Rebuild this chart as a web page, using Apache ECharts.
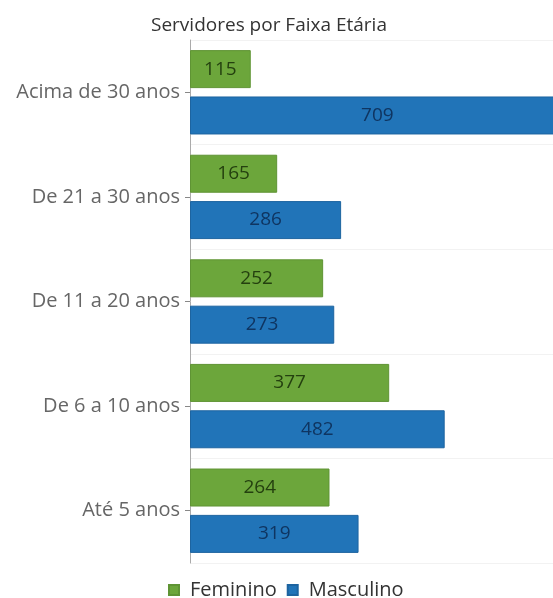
<!DOCTYPE html>
<html>
<head>
<meta charset="utf-8">
<script src="https://cdn.jsdelivr.net/npm/echarts@6/dist/echarts.min.js"></script>
<style>
html,body{margin:0;padding:0;background:#fff;overflow:hidden;}
#chart{width:553px;height:598px;}
</style>
</head>
<body>
<div id="chart"></div>
<script>
var categories = ['Acima de 30 anos', 'De 21 a 30 anos', 'De 11 a 20 anos', 'De 6 a 10 anos', 'Até 5 anos'];
var feminino = [115, 165, 252, 377, 264];
var masculino = [709, 286, 273, 482, 319];
var seriesNames = ['Feminino', 'Masculino'];

var chart = echarts.init(document.getElementById('chart'), null, {renderer: 'canvas'});
var font = '"Open Sans", "Noto Sans", sans-serif';
chart.setOption({
  animation: false,
  textStyle: {fontFamily: font},
  title: {
    text: 'Servidores por Faixa Etária',
    left: 146, top: 11,
    textStyle: {fontFamily: font, fontSize: 19, fontWeight: 'normal', color: '#333'}
  },
  legend: {
    data: seriesNames,
    left: 163, top: 575,
    itemWidth: 10, itemHeight: 10, itemGap: 10,
    icon: 'rect',
    textStyle: {fontFamily: font, fontSize: 20, color: '#333', padding: [0, 0, 0, 6]}
  },
  grid: {left: 190, right: 0, top: 40, bottom: 35, containLabel: false},
  xAxis: {
    type: 'value', min: 0, max: 687,
    axisLine: {show: false}, axisTick: {show: false}, axisLabel: {show: false},
    splitLine: {show: false}
  },
  yAxis: {
    type: 'category', data: categories, inverse: true,
    axisLine: {show: true, lineStyle: {color: '#aaa', width: 1}},
    axisTick: {show: true, alignWithLabel: true, length: 5, lineStyle: {color: '#888'}},
    axisLabel: {fontFamily: font, fontSize: 20, color: '#666', margin: 10},
    splitLine: {show: true, lineStyle: {color: '#f2f2f2', width: 1}}
  },
  series: [
    {
      name: seriesNames[0], type: 'bar', data: feminino, clip: false,
      barWidth: 38, barGap: '22%',
      itemStyle: {color: '#6ca63b', borderColor: '#5f9434', borderWidth: 1},
      label: {show: true, position: 'inside', fontFamily: font, fontSize: 19, color: '#24400f'}
    },
    {
      name: seriesNames[1], type: 'bar', data: masculino, clip: false,
      barWidth: 38, barGap: '22%',
      itemStyle: {color: '#2174b8', borderColor: '#1d64a0', borderWidth: 1},
      label: {show: true, position: 'inside', fontFamily: font, fontSize: 19, color: '#0f3561'}
    }
  ]
});
</script>
</body>
</html>
